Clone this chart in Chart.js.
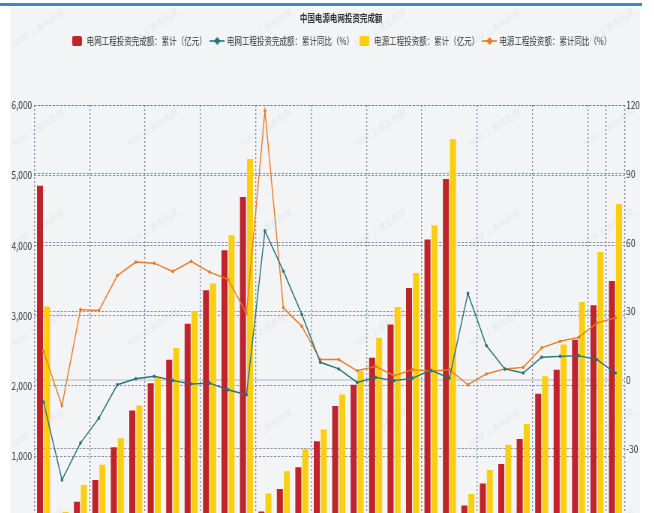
<!DOCTYPE html>
<html>
<head>
<meta charset="utf-8">
<script src="https://cdn.jsdelivr.net/npm/chart.js@4.4.1/dist/chart.umd.min.js"></script>
<style>
  html, body { margin: 0; padding: 0; width: 654px; height: 513px; overflow: hidden; background: #fff; }
  #topbar { position: absolute; left: 0; top: 3px; width: 642px; height: 3px; background: #3d87c9; }
  #panel { position: absolute; left: 10px; top: 7px; width: 630px; height: 520px; background: #f3f4f6; }
  /* the reference is squeezed horizontally, so draw wide and squeeze */
  #wrap { position: absolute; left: 10px; top: 0; width: 883px; height: 540px; transform: scaleX(0.75); transform-origin: 0 0; }
</style>
</head>
<body>
<div id="topbar"></div>
<div id="panel"></div>
<div id="wrap"><canvas id="chart" width="883" height="540"></canvas></div>
<script>
const months = [
  "2019-12",
  "2020-02", "2020-03", "2020-04", "2020-05", "2020-06", "2020-07", "2020-08", "2020-09", "2020-10", "2020-11", "2020-12",
  "2021-02", "2021-03", "2021-04", "2021-05", "2021-06", "2021-07", "2021-08", "2021-09", "2021-10", "2021-11", "2021-12",
  "2022-02", "2022-03", "2022-04", "2022-05", "2022-06", "2022-07", "2022-08", "2022-09", "2022-10"
];
// 电网工程投资完成额：累计（亿元）
const gridInvest = [4850, 150, 348, 658, 1123, 1647, 2037, 2371, 2885, 3360, 3931, 4690,
  210, 530, 838, 1209, 1714, 2014, 2399, 2875, 3393, 4084, 4945,
  296, 609, 886, 1243, 1885, 2228, 2656, 3146, 3493];
// 电网工程投资完成额：累计同比（%）
const gridYoY = [-9.8, -43.8, -27.7, -16.8, -2.2, 0.4, 1.5, -0.3, -1.9, -1.5, -4.4, -6.6,
  65.0, 47.4, 28.5, 7.6, 4.7, -1.2, 1.0, -0.4, 0.7, 4.1, 0.7,
  37.7, 14.9, 4.7, 2.9, 9.8, 10.2, 10.5, 8.8, 2.9];
// 电源工程投资额：累计（亿元）
const sourceInvest = [3130, 205, 587, 876, 1252, 1719, 2114, 2537, 3065, 3456, 4145, 5230,
  467, 781, 1100, 1376, 1876, 2208, 2685, 3122, 3607, 4288, 5511,
  458, 801, 1162, 1457, 2137, 2589, 3193, 3907, 4588];
// 电源工程投资额：累计同比（%）
const sourceYoY = [12.4, -11.4, 30.6, 30.2, 45.5, 51.4, 50.9, 47.3, 51.7, 47.0, 43.8, 28.9,
  117.5, 31.4, 23.3, 8.8, 8.8, 3.9, 5.8, 1.75, 4.4, 3.7, 4.4,
  -2.2, 2.5, 4.7, 5.4, 13.9, 16.8, 18.5, 24.8, 27.0];

const leftTicks = [0, 1000, 2000, 3000, 4000, 5000, 6000];
const rightTicks = [-60, -30, 0, 30, 60, 90, 120];

const SX = 0.75;
const FONT = "'Noto Sans CJK SC', 'Noto Sans', sans-serif";
const GRID = "rgba(112,118,145,0.8)";
const RED = "#c1232b", TEAL = "#27727b", YELLOW = "#fcce10", ORANGE = "#e87c25";

function boxIcon(color) {
  const c = document.createElement("canvas");
  c.width = 13; c.height = 10;
  const g = c.getContext("2d");
  g.fillStyle = color;
  g.beginPath(); g.roundRect(0, 0, 13, 10, 2); g.fill();
  return c;
}

function lineIcon(color) {
  const c = document.createElement("canvas");
  c.width = 20; c.height = 10;
  const g = c.getContext("2d");
  g.strokeStyle = color; g.lineWidth = 1.6;
  g.beginPath(); g.moveTo(0, 5); g.lineTo(20, 5); g.stroke();
  g.fillStyle = color;
  g.beginPath(); g.moveTo(10, 1); g.lineTo(14.5, 5); g.lineTo(10, 9); g.lineTo(5.5, 5); g.closePath(); g.fill();
  return c;
}

const icons = [boxIcon(RED), lineIcon(TEAL), boxIcon(YELLOW), lineIcon(ORANGE)];

const watermark = {
  id: "watermark",
  beforeDraw(chart) {
    const ctx = chart.ctx;
    ctx.save();
    ctx.fillStyle = "rgba(120,120,130,0.10)";
    ctx.font = "10px " + FONT;
    ctx.textAlign = "center";
    ctx.textBaseline = "middle";
    for (let row = 0; row < 6; row++) {
      for (let col = 0; col < 6; col++) {
        ctx.save();
        ctx.translate((38 + 114 * col - 10) / SX, 28 + 100 * row);
        ctx.rotate(-0.46);
        ctx.fillText("SMM 上海有色网", 0, 0);
        ctx.restore();
      }
    }
    ctx.restore();
  }
};

const barStyle = { categoryPercentage: 0.76, barPercentage: 0.86, borderWidth: 0, yAxisID: "y", order: 1 };
const lineStyle = { borderWidth: 1.4, pointRadius: 1.8, pointBorderWidth: 0, tension: 0, yAxisID: "y1", order: 0 };

new Chart(document.getElementById("chart"), {
  data: {
    labels: months,
    datasets: [
      { type: "bar", label: "电网工程投资完成额：累计（亿元）", data: gridInvest, backgroundColor: RED, ...barStyle },
      { type: "line", label: "电网工程投资完成额：累计同比（%）", data: gridYoY, borderColor: TEAL, backgroundColor: TEAL, ...lineStyle },
      { type: "bar", label: "电源工程投资额：累计（亿元）", data: sourceInvest, backgroundColor: YELLOW, ...barStyle },
      { type: "line", label: "电源工程投资额：累计同比（%）", data: sourceYoY, borderColor: ORANGE, backgroundColor: ORANGE, ...lineStyle }
    ]
  },
  options: {
    responsive: false,
    animation: false,
    layout: { padding: { left: 0, right: 0, top: 0, bottom: 13.8 } },
    plugins: {
      title: {
        display: true,
        text: "中国电源电网投资完成额",
        color: "#333",
        font: { family: FONT, size: 10, weight: "bold", lineHeight: 1.2 },
        padding: { top: 12, bottom: 6 }
      },
      subtitle: {
        display: true,
        text: "",
        weight: 500,
        font: { size: 10, lineHeight: 1.2 },
        padding: { top: 37, bottom: 0 }
      },
      legend: {
        labels: {
          usePointStyle: true,
          pointStyleWidth: 16,
          padding: 6,
          color: "#333",
          font: { family: FONT, size: 10 },
          sort: (a, b) => a.datasetIndex - b.datasetIndex,
          generateLabels(chart) {
            const items = Chart.defaults.plugins.legend.labels.generateLabels(chart);
            items.forEach(it => { it.pointStyle = icons[it.datasetIndex]; });
            return items;
          }
        }
      },
      tooltip: { enabled: false }
    },
    scales: {
      x: {
        offset: true,
        grid: {
          offset: true,
          drawTicks: false,
          lineWidth: 1.3,
          color: c => (c.type !== "tick" || c.index % 3 === 0 || c.index === months.length - 1) ? GRID : "rgba(0,0,0,0)"
        },
        border: { display: false, dash: [2, 2] },
        ticks: { display: false }
      },
      y: {
        position: "left",
        min: 0,
        max: 6000,
        afterBuildTicks: s => { s.ticks = leftTicks.map(v => ({ value: v })); },
        afterFit: s => { s.width = 32.4; },
        grid: { drawTicks: false, color: GRID },
        border: { display: false, dash: [3, 2] },
        ticks: { padding: 3, color: "#333", font: { family: FONT, size: 11 }, callback: v => v.toLocaleString("en-US") }
      },
      y1: {
        position: "right",
        min: -64,
        max: 120,
        afterBuildTicks: s => { s.ticks = rightTicks.map(v => ({ value: v })); },
        afterFit: s => { s.width = 63.4; },
        grid: {
          drawTicks: false,
          color: c => (c.tick && c.tick.value === 0) ? "#d3d6de" : GRID,
          lineWidth: c => (c.tick && c.tick.value === 0) ? 2 : 1
        },
        border: { display: false, dash: c => (c.tick && c.tick.value === 0) ? [] : [3, 2] },
        ticks: { padding: 2, color: "#333", font: { family: FONT, size: 11 } }
      }
    }
  },
  plugins: [watermark]
});
</script>
</body>
</html>
